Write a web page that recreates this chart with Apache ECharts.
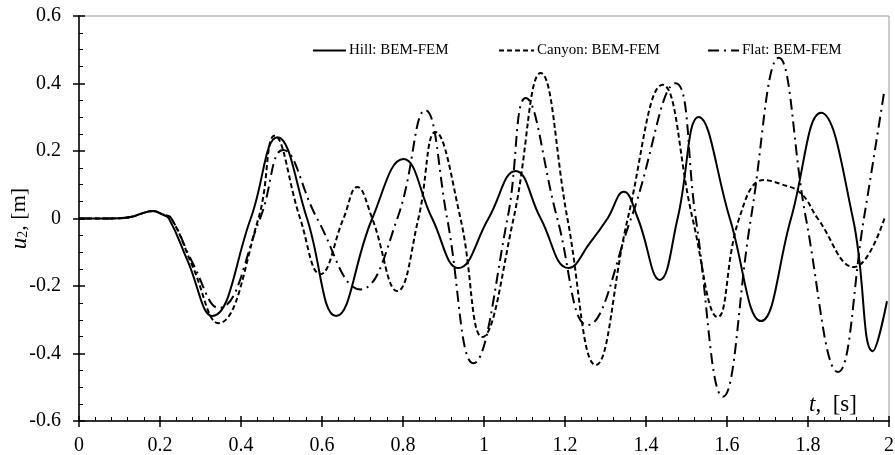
<!DOCTYPE html>
<html>
<head>
<meta charset="utf-8">
<script src="https://cdn.jsdelivr.net/npm/echarts@6/dist/echarts.min.js"></script>
<style>html,body{margin:0;padding:0;background:#fff}#c{width:895px;height:455px}</style>
</head>
<body>
<div id="c"></div>
<script>
const seriesNames = ['Hill: BEM-FEM', 'Canyon: BEM-FEM', 'Flat: BEM-FEM'];
const xTicks = ['0','0.2','0.4','0.6','0.8','1','1.2','1.4','1.6','1.8','2'];
const yTicks = ['-0.6','-0.4','-0.2','0','0.2','0.4','0.6'];

const hillT = [0,0.05,0.10,0.13,0.155,0.183,0.205,0.222,0.268,0.329,0.424,0.490,0.563,0.635,0.724,0.801,0.872,0.937,1.011,1.078,1.140,1.209,1.263,1.305,1.345,1.380,1.434,1.478,1.530,1.607,1.684,1.758,1.832,1.911,1.960,1.995];
const hillU = [0,0,0.001,0.005,0.015,0.022,0.012,0,-0.125,-0.289,0,0.241,0,-0.289,0,0.176,0,-0.147,0,0.141,0,-0.147,-0.07,0,0.079,0,-0.182,0,0.301,0,-0.304,0,0.313,0,-0.393,-0.245];

const canyonT = [0,0.05,0.10,0.13,0.155,0.183,0.205,0.228,0.28,0.344,0.443,0.483,0.546,0.596,0.653,0.687,0.724,0.786,0.838,0.880,0.942,0.996,1.073,1.140,1.206,1.276,1.355,1.441,1.515,1.577,1.630,1.691,1.733,1.782,1.824,1.914,1.990];
const canyonU = [0,0,0.001,0.005,0.015,0.022,0.013,0,-0.14,-0.310,0,0.245,0,-0.165,0,0.093,0,-0.215,0,0.256,0,-0.351,0,0.431,0,-0.434,0,0.396,0,-0.292,0,0.114,0.102,0.075,0,-0.144,0.005];

const flatT = [0,0.05,0.10,0.13,0.155,0.183,0.205,0.228,0.28,0.345,0.447,0.504,0.588,0.695,0.786,0.855,0.909,0.974,1.058,1.103,1.181,1.256,1.363,1.473,1.523,1.590,1.659,1.728,1.795,1.874,1.938,1.988];
const flatU = [0,0,0.001,0.005,0.015,0.022,0.013,0,-0.13,-0.265,0,0.203,0,-0.21,0,0.321,0,-0.429,0,0.357,0,-0.316,0,0.401,0,-0.528,0,0.476,0,-0.455,0,0.375];

function pairs(t, u) { return t.map((v, i) => [v, u[i]]); }

const FONT = 'Liberation Serif';
const chart = echarts.init(document.getElementById('c'));
const lineBase = { type: 'line', smooth: 0.45, symbol: 'none', showSymbol: false, animation: false, z: 3,
  color: '#000', itemStyle: { color: '#000' } };
const legendBase = { top: 43, padding: 0, itemHeight: 12, itemStyle: { opacity: 0 },
  textStyle: { fontFamily: FONT, fontSize: 15, color: '#000', padding: [0,0,0,-2] } };

chart.setOption({
  animation: false,
  backgroundColor: '#fff',
  grid: { left: 79, right: 6, top: 16, bottom: 34, show: true, borderColor: '#999', borderWidth: 1,
    containLabel: false, outerBoundsMode: 'none' },
  legend: [
    Object.assign({ data: [seriesNames[0]], left: 312, itemWidth: 33 }, legendBase),
    Object.assign({ data: [seriesNames[1]], left: 498, itemWidth: 35 }, legendBase),
    Object.assign({ data: [seriesNames[2]], left: 707, itemWidth: 31 }, legendBase)
  ],
  xAxis: [{
    type: 'value', min: 0, max: 2, interval: 0.2,
    axisLine: { onZero: false, lineStyle: { color: '#000', width: 1.5 } },
    axisTick: { inside: true, length: 5, lineStyle: { color: '#000', width: 1.5 } },
    minorTick: { show: true, splitNumber: 5, length: 4, lineStyle: { color: '#000', width: 1 } },
    splitLine: { show: false },
    axisLabel: { margin: 15, fontFamily: FONT, fontSize: 20, color: '#000',
      formatter: v => xTicks[Math.round(v / 0.2)] }
  }, {
    type: 'value', min: 0, max: 2, interval: 0.2, position: 'bottom',
    axisLine: { show: false, onZero: false },
    axisTick: { inside: false, length: 6, lineStyle: { color: '#000', width: 1.5 } },
    axisLabel: { show: false }, splitLine: { show: false }
  }],
  yAxis: [{
    type: 'value', min: -0.6, max: 0.6, interval: 0.2,
    axisLine: { onZero: false, lineStyle: { color: '#000', width: 1.5 } },
    axisTick: { inside: true, length: 6, lineStyle: { color: '#000', width: 1.5 } },
    minorTick: { show: true, splitNumber: 4, length: 4, lineStyle: { color: '#000', width: 1 } },
    splitLine: { show: false },
    axisLabel: { margin: 18, fontFamily: FONT, fontSize: 20, color: '#000',
      formatter: v => yTicks[Math.round((v + 0.6) / 0.2)] },
    name: '{i|u}{s|2}{n|, [m]}',
    nameLocation: 'middle', nameGap: 48, nameRotate: 90, nameMoveOverlap: false,
    nameTextStyle: { fontFamily: FONT, fontSize: 22, color: '#000',
      rich: {
        i: { fontFamily: FONT, fontSize: 23, fontStyle: 'italic', color: '#000' },
        s: { fontFamily: FONT, fontSize: 14, color: '#000', padding: [8, 0, 0, 0] },
        n: { fontFamily: FONT, fontSize: 22, color: '#000' }
      } }
  }, {
    type: 'value', min: -0.6, max: 0.6, interval: 0.2, position: 'left',
    axisLine: { show: false, onZero: false },
    axisTick: { inside: false, length: 6, lineStyle: { color: '#000', width: 1.5 } },
    axisLabel: { show: false }, splitLine: { show: false }
  }],
  graphic: [{
    type: 'text', left: 809, top: 393, z: 10,
    style: {
      text: '{i|t}{n|,  [s]}',
      rich: {
        i: { fontFamily: FONT, fontSize: 23, fontStyle: 'italic', fill: '#000' },
        n: { fontFamily: FONT, fontSize: 23, fill: '#000' }
      }
    }
  }],
  series: [
    Object.assign({}, lineBase, { name: seriesNames[0], data: pairs(hillT, hillU),
      lineStyle: { color: '#000', width: 2, type: 'solid' } }),
    Object.assign({}, lineBase, { name: seriesNames[1], data: pairs(canyonT, canyonU),
      lineStyle: { color: '#000', width: 2, type: [5, 3] } }),
    Object.assign({}, lineBase, { name: seriesNames[2], data: pairs(flatT, flatU),
      lineStyle: { color: '#000', width: 2, type: [11, 5, 2, 5] } })
  ]
});
</script>
</body>
</html>
